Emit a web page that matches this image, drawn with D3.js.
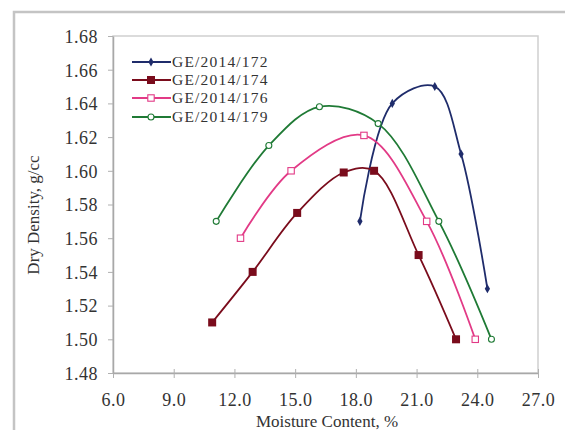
<!DOCTYPE html>
<html>
<head>
<meta charset="utf-8">
<script src="https://cdn.jsdelivr.net/npm/d3@7"></script>
<style>
  html, body { margin: 0; padding: 0; background: #fff; }
  svg text { font-family: "Liberation Serif", "Times New Roman", serif; fill: #333; }
</style>
</head>
<body>
<svg id="chart" width="565" height="430"></svg>
<script>
// ---- data ----
const seriesNames = ["GE/2014/172", "GE/2014/174", "GE/2014/176", "GE/2014/179"];
const x172 = [18.2, 19.8, 21.9, 23.2, 24.5];
const y172 = [1.57, 1.64, 1.65, 1.61, 1.53];
const x174 = [10.9, 12.9, 15.1, 17.4, 18.9, 21.1, 22.95];
const y174 = [1.51, 1.54, 1.575, 1.599, 1.60, 1.55, 1.50];
const x176 = [12.3, 14.8, 18.4, 21.5, 23.9];
const y176 = [1.56, 1.60, 1.621, 1.57, 1.50];
const x179 = [11.1, 13.7, 16.2, 19.1, 22.1, 24.7];
const y179 = [1.57, 1.615, 1.638, 1.628, 1.57, 1.50];
const xTicks = [6, 9, 12, 15, 18, 21, 24, 27];
const yTicks = [1.48, 1.50, 1.52, 1.54, 1.56, 1.58, 1.60, 1.62, 1.64, 1.66, 1.68];

const seriesX = [x172, x174, x176, x179];
const seriesY = [y172, y174, y176, y179];
const colors = ["#1f2c6b", "#7a0c1c", "#e23a86", "#1f7a35"];
const markers = ["diamond", "filledSquare", "hollowSquare", "hollowCircle"];

const svg = d3.select("#chart");
svg.append("rect").attr("x", 0).attr("y", 0).attr("width", 565).attr("height", 430).attr("fill", "#fff");
// outer chart border
svg.append("rect").attr("x", 14).attr("y", 12).attr("width", 570).attr("height", 440)
  .attr("fill", "none").attr("stroke", "#c4c4c4").attr("stroke-width", 2.5);

const L = 113, R = 538, T = 36, B = 373;
const x = d3.scaleLinear().domain([6, 27]).range([L, R]);
const y = d3.scaleLinear().domain([1.48, 1.68]).range([B, T]);

// plot area border
svg.append("rect").attr("x", L).attr("y", T).attr("width", R - L).attr("height", B - T)
  .attr("fill", "none").attr("stroke", "#cfcfcf").attr("stroke-width", 1.5);

// axes
const xAxis = d3.axisBottom(x).tickValues(xTicks).tickFormat(d3.format(".1f")).tickSize(0);
const gx = svg.append("g").attr("transform", `translate(0,${B})`).call(xAxis);
gx.select(".domain").attr("stroke", "#a8a8a8").attr("stroke-width", 1.5);
gx.selectAll(".tick line").remove();
gx.selectAll(".tick").append("line").attr("y1", -4).attr("y2", 5).attr("stroke", "#b0b0b0");
gx.selectAll("text").attr("font-size", 18).attr("dy", 0).attr("y", 33)
  .attr("font-family", "Liberation Serif").attr("fill", "#444").attr("letter-spacing", 0.5);

const yAxis = d3.axisLeft(y).tickValues(yTicks).tickFormat(d3.format(".2f")).tickSize(0);
const gy = svg.append("g").attr("transform", `translate(${L},0)`).call(yAxis);
gy.select(".domain").attr("stroke", "#a8a8a8").attr("stroke-width", 1.5);
gy.selectAll(".tick line").remove();
gy.selectAll(".tick").append("line").attr("x1", -5).attr("x2", 0).attr("stroke", "#b0b0b0");
gy.selectAll("text").attr("font-size", 18).attr("x", -15).attr("dy", "0.35em")
  .attr("font-family", "Liberation Serif").attr("fill", "#444").attr("letter-spacing", 0.5);

// axis titles
svg.append("text").attr("x", 327).attr("y", 427).attr("text-anchor", "middle")
  .attr("font-size", 17).attr("fill", "#333").text("Moisture Content, %");
svg.append("text").attr("transform", "translate(39,215) rotate(-90)").attr("text-anchor", "middle")
  .attr("font-size", 17).attr("fill", "#333").text("Dry Density, g/cc");

// lines
const line = d3.line().x(d => x(d[0])).y(d => y(d[1])).curve(d3.curveCatmullRom.alpha(0.5));

function drawMarker(g, type, cx, cy, color) {
  if (type === "diamond") {
    g.append("path").attr("d", d3.symbol(d3.symbolDiamond, 24)()).attr("transform", `translate(${cx},${cy})`)
      .attr("fill", color);
  } else if (type === "filledSquare") {
    g.append("rect").attr("x", cx - 4).attr("y", cy - 4).attr("width", 8).attr("height", 8).attr("fill", color);
  } else if (type === "hollowSquare") {
    g.append("rect").attr("x", cx - 3.2).attr("y", cy - 3.2).attr("width", 6.4).attr("height", 6.4)
      .attr("fill", "#fff").attr("stroke", color).attr("stroke-width", 1.1);
  } else {
    g.append("circle").attr("cx", cx).attr("cy", cy).attr("r", 3)
      .attr("fill", "#fff").attr("stroke", color).attr("stroke-width", 1.1);
  }
}

seriesNames.forEach((name, i) => {
  const pts = seriesX[i].map((xv, j) => [xv, seriesY[i][j]]);
  const g = svg.append("g");
  g.append("path").attr("d", line(pts)).attr("fill", "none").attr("stroke", colors[i]).attr("stroke-width", 1.8);
  pts.forEach(p => drawMarker(g, markers[i], x(p[0]), y(p[1]), colors[i]));
});

// legend
const legY = [62, 80, 98, 117];
seriesNames.forEach((name, i) => {
  const g = svg.append("g");
  g.append("line").attr("x1", 132).attr("x2", 171).attr("y1", legY[i]).attr("y2", legY[i])
    .attr("stroke", colors[i]).attr("stroke-width", 1.8);
  drawMarker(g, markers[i], 151, legY[i], colors[i]);
  g.append("text").attr("x", 172).attr("y", legY[i]).attr("dy", "0.35em")
    .attr("font-size", 15.5).attr("letter-spacing", 1.2).attr("fill", "#444").text(name);
});
</script>
</body>
</html>
